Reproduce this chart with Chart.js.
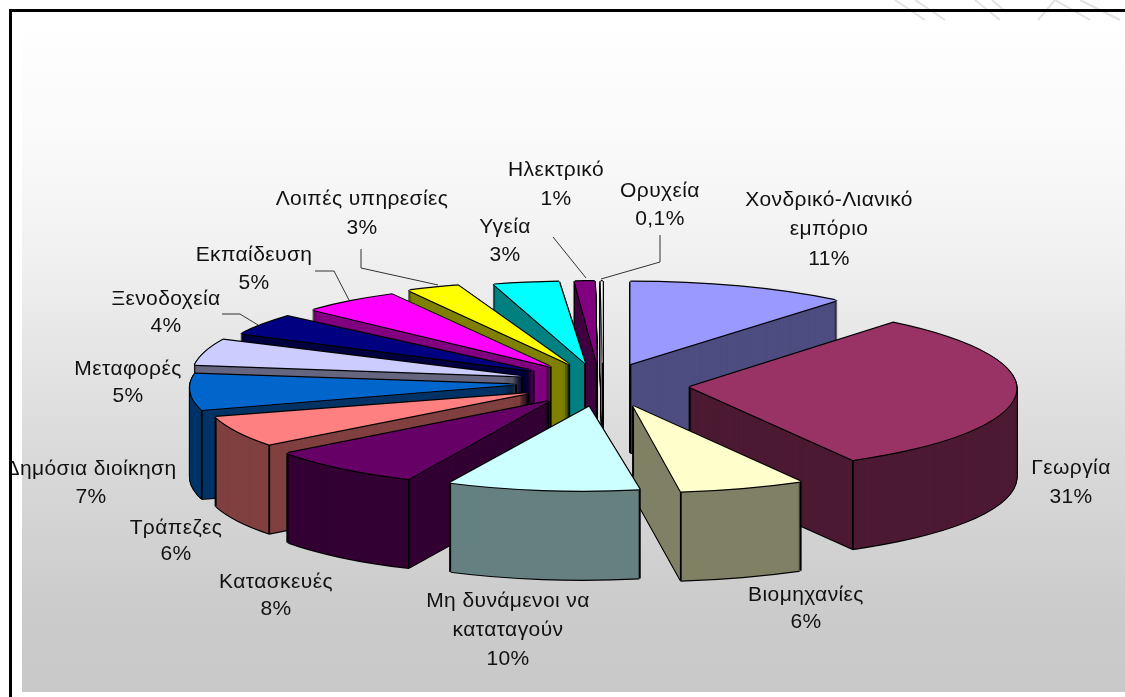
<!DOCTYPE html>
<html><head><meta charset="utf-8">
<style>html,body{margin:0;padding:0;background:#fff}canvas{display:block}</style>
<script src="https://cdn.jsdelivr.net/npm/chart.js@4"></script>
</head><body>
<canvas id="c" width="1125" height="697"></canvas>
<script>
const categories = ['Χονδρικό-Λιανικό εμπόριο','Γεωργία','Βιομηχανίες','Μη δυνάμενοι να καταταγούν','Κατασκευές','Τράπεζες','Δημόσια διοίκηση','Μεταφορές','Ξενοδοχεία','Εκπαίδευση','Λοιπές υπηρεσίες','Υγεία','Ηλεκτρικό','Ορυχεία'];
const values = [11,31,6,10,8,6,7,5,4,5,2.7,3.3,1,0.1];
const topColors = ['#9999ff','#993366','#ffffcc','#ccffff','#660066','#ff8080','#0066cc','#ccccff','#000080','#ff00ff','#ffff00','#00ffff','#800080','#ffffff'];
const wallColors = ['#4d4d80','#4d1a33','#808066','#668080','#330033','#804040','#003366','#666680','#000040','#800080','#808000','#008080','#400040','#808080'];
const labelText = [['Χονδρικό-Λιανικό','εμπόριο','11%'],['Γεωργία','31%'],['Βιομηχανίες','6%'],['Μη δυνάμενοι να','καταταγούν','10%'],['Κατασκευές','8%'],['Τράπεζες','6%'],['Δημόσια διοίκηση','7%'],['Μεταφορές','5%'],['Ξενοδοχεία','4%'],['Εκπαίδευση','5%'],['Λοιπές υπηρεσίες','3%'],['Υγεία','3%'],['Ηλεκτρικό','1%'],['Ορυχεία','0,1%']];

// layout only: the viewing model of the tilted pie, label anchors and leader lines
const labelPos = [[829,200,29.5],[1071,468,29],[806,595,27],[508,601,29],[276,582,27],[176,528,26],[91,469,28],[128,369,27],[166,299,27],[254,255,28],[362,199,29],[505,227,28],[556,170,29],[660,191,28]];
const leaders = [[[222,314],[240,314],[258,325]],[[315,271],[334,271],[349,300]],[[361,249],[361,268],[438,285]],[[553,237],[586,278]],[[660,235],[660,262],[601,279]]];
const shearX = [0,0.07,0.05,0.13,0.18,0.3,0.3,0.5,0.35,0.27,0.3,0.05,0,0];
const shearY = [0,0,0,0.015,0.025,0.025,0.03,0.028,0.025,0.012,0,0,0,0];
const radial = [0.98,0.99,1.025,0.94,0.97,0.98,0.985,0.99,0.99,0.975,0.972,0.97,0.97,0.97];
const flat = [1,1,1,1.06,1.03,1,1,1,1,1,1,1,1,1];
const nudge = [1,3,6,5,8,9,3,2,1,0,0,0,0,3];
const view = {cx:600, cy:385, R:330, k:0.255, explode:87, depth:89, w:1.2};

const pie3d = {
  id:'pie3d',
  beforeDraw(chart){
    const c = chart.ctx;
    const top = 20, bottom = 692, span = bottom-top;
    const g = c.createLinearGradient(0,top,0,bottom);
    [[20,'#ffffff'],[170,'#f8f8f8'],[260,'#f0f0f0'],[430,'#dcdcdc'],[600,'#cccccc'],[692,'#c8c8c8']].forEach(([y,col])=>g.addColorStop((y-top)/span,col));
    c.fillStyle='#fff'; c.fillRect(0,0,1125,697);
    c.fillStyle=g; c.fillRect(22,top,1103,span);
    c.save(); c.strokeStyle='#e2e2e2'; c.lineWidth=2;
    for(const [a,b,d,e] of [[895,0,925,20],[915,0,945,20],[975,0,1000,20],[992,0,1006,12],[1038,20,1055,0],[1055,0,1090,20],[1080,0,1120,20]]){
      c.beginPath(); c.moveTo(a,b); c.lineTo(d,e); c.stroke();
    }
    c.restore();
  },
  beforeDatasetsDraw(chart){
    const c = chart.ctx, meta = chart.getDatasetMeta(0), V = view;
    const items = meta.data.map((el,i)=>({el,i,a:(el.startAngle+el.endAngle)/2}));
    items.sort((p,q)=>Math.sin(p.a)-Math.sin(q.a));
    for(const {el,i,a} of items){
      const s = Math.sin(a);
      const ma = V.R*radial[i]/el.outerRadius, md = ma*V.k*flat[i], mc = shearX[i]*md, mb = -shearY[i]*ma;
      const Cx = V.cx+V.explode*Math.cos(a)+nudge[i], Cy = V.cy+V.k*V.explode*s;
      const d = V.depth;
      const fill = (col,dx,dy)=>{
        const o = el.options.backgroundColor;
        el.options.backgroundColor = col;
        c.save();
        c.setTransform(ma,mb,mc,md,Cx-ma*el.x-mc*el.y+dx,Cy-mb*el.x-md*el.y+dy);
        el.draw(c);
        c.restore();
        el.options.backgroundColor = o;
      };
      const w = V.w;
      for(let z=d;z>=0;z-=1){ fill('#000',-w,z); fill('#000',w,z); }
      fill('#000',0,d+w);
      for(let z=d;z>=0;z-=1) fill(wallColors[i],0,z);
      // vertical edges at the tip (unless the slice hides it) and at outer corners facing the viewer
      const r = el.outerRadius;
      const pts = (el.startAngle<=Math.PI/2 && el.endAngle>=Math.PI/2) ? [] : [[Cx,Cy]];
      for(const t of [el.startAngle,el.endAngle]){
        if(Math.sin(t)>=0){ const ux=r*Math.cos(t), uy=r*Math.sin(t); pts.push([Cx+ma*ux+mc*uy,Cy+mb*ux+md*uy]); }
      }
      c.save(); c.strokeStyle='#000'; c.lineWidth=1.8;
      for(const [x,y] of pts){ c.beginPath(); c.moveTo(x,y); c.lineTo(x,y+d); c.stroke(); }
      c.restore();
      for(const [dx,dy] of [[-w,0],[w,0],[0,-w],[0,w]]) fill('#000',dx,dy);
      fill(topColors[i],0,0);
    }
    return false;
  },
  afterDraw(chart){
    const c = chart.ctx;
    c.save();
    c.strokeStyle='#333'; c.lineWidth=1;
    for(const l of leaders){ c.beginPath(); l.forEach(([x,y],j)=>j?c.lineTo(x,y):c.moveTo(x,y)); c.stroke(); }
    c.fillStyle='#111'; c.font='21px "Liberation Sans"'; c.letterSpacing='0.4px'; c.textAlign='center'; c.textBaseline='middle';
    labelText.forEach((lines,i)=>{
      const [x,y,h]=labelPos[i];
      lines.forEach((t,j)=>c.fillText(t,x,y+j*h));
    });
    c.fillStyle='#fff'; c.fillRect(0,0,9,697);
    c.fillStyle='#000'; c.fillRect(9,9,3,688); c.fillRect(9,9,1116,3);
    c.restore();
  }
};

new Chart(document.getElementById('c'),{
  type:'pie',
  data:{labels:categories,datasets:[{data:values,backgroundColor:topColors,borderWidth:0}]},
  options:{responsive:false,animation:false,plugins:{legend:{display:false},tooltip:{enabled:false}}},
  plugins:[pie3d]
});
</script>
</body></html>
